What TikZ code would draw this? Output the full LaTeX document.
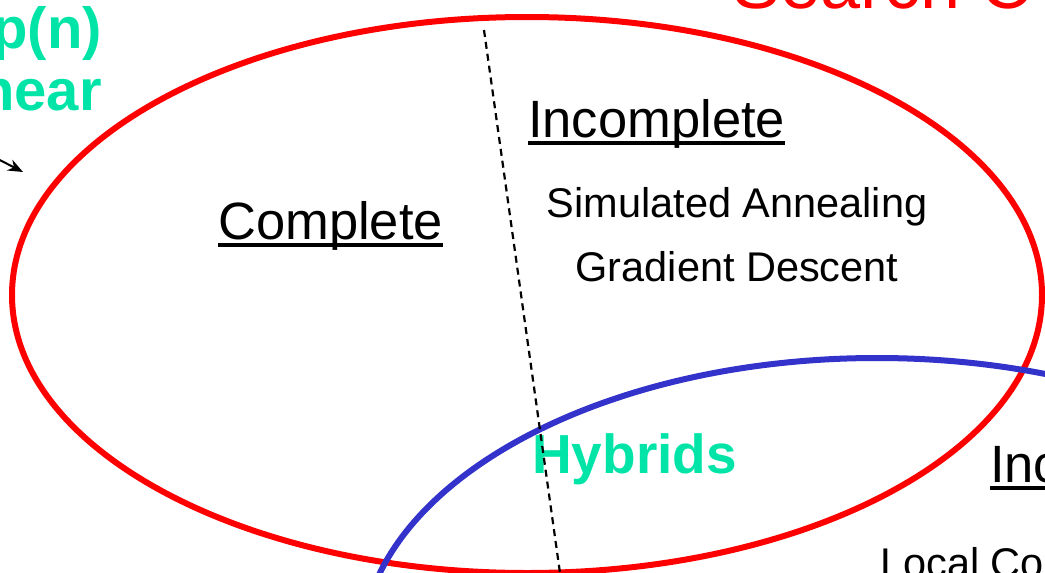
\documentclass[tikz,border=0pt]{standalone}
\usepackage{fontspec}
\setmainfont{Liberation Sans}
\usetikzlibrary{arrows.meta}
\definecolor{hybridgreen}{RGB}{0,228,168}
\definecolor{ringblue}{RGB}{51,51,204}
\tikzset{
  >=Stealth,
  ring/.style={line width=6pt},
  heading/.style={font=\fontsize{52.5}{60}\selectfont, inner sep=0pt, anchor=base west},
  method/.style={font=\fontsize{41.5}{48}\selectfont, inner sep=0pt, anchor=base},
  loud/.style={font=\bfseries\fontsize{55}{62}\selectfont, text=hybridgreen, inner sep=0pt, anchor=base west},
  uline/.style={line width=4pt},
}

\begin{document}
\begin{tikzpicture}[x=1pt, y=-1pt]
\useasboundingbox (0,0) rectangle (1045,573);
\clip (0,0) rectangle (1045,573);

\draw[ring, red] (527,295) ellipse [x radius=515, y radius=278];
\draw[ring, ringblue] (877,652) ellipse [x radius=516, y radius=294];

\node[loud, anchor=base east, font=\bfseries\fontsize{58}{64}\selectfont] (order) at (102,48) {p(n)};
\node[loud, anchor=base east, font=\bfseries\fontsize{58}{64}\selectfont] (linear) at (102,110) {near};
\node[heading, text=red, font=\fontsize{72}{80}\selectfont] (title) at (732,8) {Search C};

\node[heading] (complete) at (218,239) {Complete};
\node[heading] (incomplete) at (528,137) {Incomplete};
\node[heading] (other) at (990,482) {Inc};
\draw[uline] ([yshift=-6pt]complete.base west) -- ([yshift=-6pt]complete.base east);
\draw[uline] ([yshift=-6pt]incomplete.base west) -- ([yshift=-6pt]incomplete.base east);
\draw[uline] ([yshift=-6pt]other.base west) -- ([yshift=-6pt]other.base east);

\node[method] (annealing) at (737,217) {Simulated Annealing};
\node[method] (gradient) at (737,281) {Gradient Descent};
\node[method, anchor=base west] (local) at (880,577) {Local Co};
\node[loud] (hybrids) at (532,473) {Hybrids};

\coordinate (split top) at (484,30);
\coordinate (split bottom) at (560,573);
\draw[dash pattern=on 7pt off 5pt, line width=2.2pt] (split top) -- (split bottom);

\coordinate (arrow tail) at (-8,156);
\coordinate (arrow head) at (23,172);
\draw[-{Stealth[length=15pt, width=12pt]}, line width=2pt] (arrow tail) -- (arrow head);
\end{tikzpicture}
\end{document}
